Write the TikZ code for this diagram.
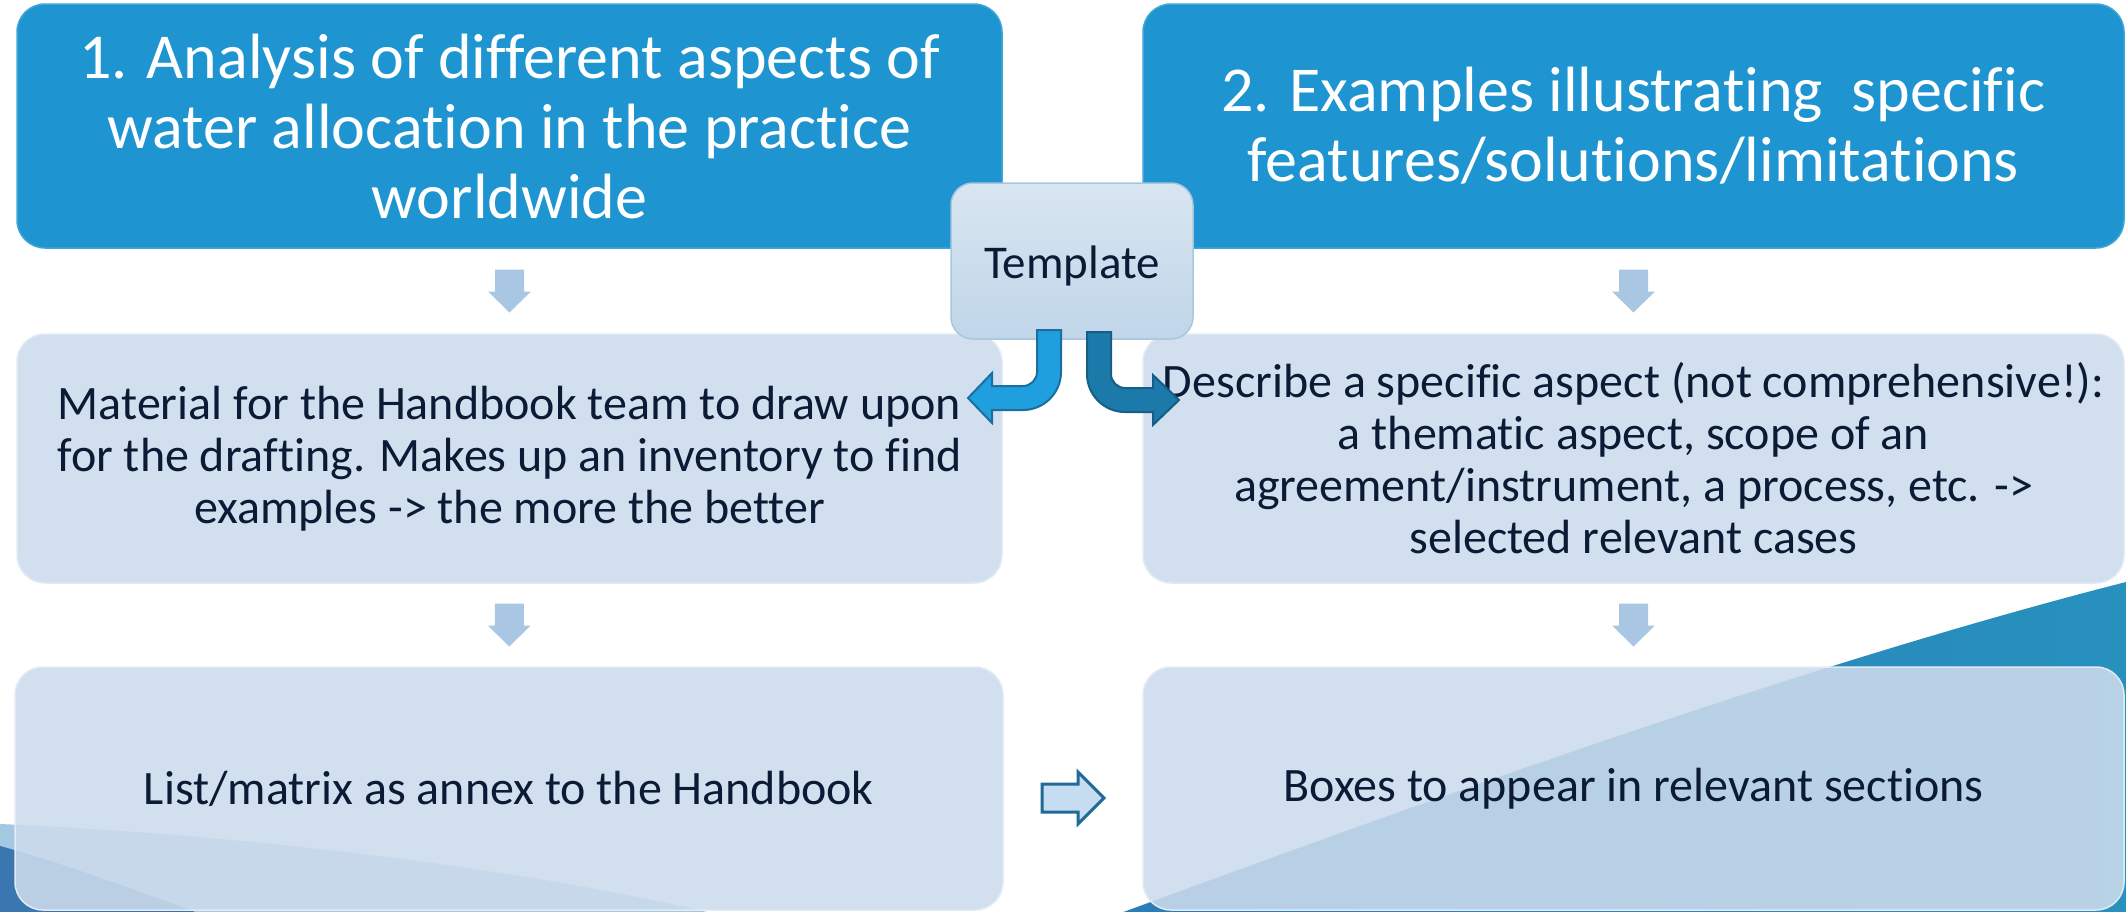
\documentclass[tikz,border=0pt]{standalone}
\usepackage{fontspec}
\setmainfont{Carlito}[Ligatures={NoCommon}]
\usetikzlibrary{calc}
\definecolor{topblue}{HTML}{1E95D0}
\definecolor{boxfill}{HTML}{CCDBEC}
\definecolor{boxedge}{HTML}{E2EBF5}
\definecolor{txtdark}{HTML}{0C1B35}
\definecolor{tmpltop}{HTML}{D8E6F1}
\definecolor{tmplbot}{HTML}{C0D6E9}
\definecolor{tmpledge}{HTML}{A8C6DE}
\definecolor{downfill}{HTML}{A9C7E2}
\definecolor{rarrfill}{HTML}{C5DCF1}
\definecolor{rarredge}{HTML}{1F6A96}
\definecolor{lcurve}{HTML}{1F9FDD}
\definecolor{lcurveedge}{HTML}{1B6E9F}
\definecolor{rcurve}{HTML}{1C7AAA}
\definecolor{rcurveedge}{HTML}{165E86}
\definecolor{teal}{HTML}{2891BE}
\definecolor{tealdark}{HTML}{2A7CB6}
\definecolor{lightwave}{HTML}{A2C9E1}
\definecolor{darkwave}{HTML}{3A77B0}
\tikzset{
  topbox/.style={rectangle, rounded corners=28pt, fill=topblue, draw=topblue!85!white, line width=1.5pt,
    minimum width=985pt, minimum height=244pt, inner sep=0pt, align=center, text=white,
    font=\fontsize{64}{70}\selectfont},
  midbox/.style={rectangle, rounded corners=28pt, fill=boxfill, fill opacity=0.88, text opacity=1,
    draw=boxedge, line width=1.5pt, minimum width=985pt, minimum height=249pt, inner sep=0pt,
    align=center, text=txtdark, font=\fontsize{48}{52}\selectfont},
  tmplbox/.style={rectangle, rounded corners=22pt, top color=tmpltop, bottom color=tmplbot,
    draw=tmpledge, line width=1.5pt, minimum width=242pt, minimum height=156pt, inner sep=0pt,
    text height=40pt, text depth=6pt,
    text=txtdark, font=\fontsize{47}{52}\selectfont},
  downarr/.pic={\fill[downfill] (-14.5,-21.5) -- (14.5,-21.5) -- (14.5,0.5) -- (21.5,0.5) -- (0,21.5) -- (-21.5,0.5) -- (-14.5,0.5) -- cycle;},
  rightarr/.pic={\filldraw[fill=rarrfill, draw=rarredge, line width=3pt, line join=miter] (-31,-14) -- (5,-14) -- (5,-26) -- (31,0) -- (5,26) -- (5,14) -- (-31,14) -- cycle;}
}
\begin{document}
\begin{tikzpicture}[x=1pt,y=-1pt]
\useasboundingbox (0,0) rectangle (2126,911);
\clip (0,0) rectangle (2126,911);
% background waves
\fill[lightwave] (0,824) .. controls (250,835) and (550,870) .. (760,925) -- (0,925) -- cycle;
\fill[darkwave] (0,846) .. controls (60,862) and (150,895) .. (230,925) -- (0,925) -- cycle;
\shade[left color=tealdark, right color=teal] (1080,928) .. controls (1400,810) and (1800,665) .. (2126,582) -- (2130,582) -- (2130,930) -- cycle;
% boxes
\node[topbox] (t1) at (509.5,126) {1. Analysis of different aspects of\\water allocation in the practice\\worldwide};
\node[topbox, minimum width=981pt] (t2) at (1633.5,126) {2. Examples illustrating\ \ specific\\features/solutions/limitations};
\node[midbox] (m1) at (509.5,458.5) {Material for the Handbook team to draw upon\\for the drafting. Makes up an inventory to find\\examples -> the more the better};
\node[midbox, minimum width=981pt] (m2) at (1633.5,458.5) {Describe a specific aspect (not comprehensive!):\\a thematic aspect, scope of an\\agreement/instrument, a process, etc. ->\\selected relevant cases};
\node[midbox, minimum width=988pt, minimum height=243pt] (b1) at (509,788.5) {List/matrix as annex to the Handbook};
\node[midbox, minimum width=981pt, minimum height=243pt] (b2) at (1633.5,788.5) {Boxes to appear in relevant sections};
\node[tmplbox] (tp) at (1072,261) {Template};
% down arrows
\pic at ($(t1.south)!0.5!(m1.north)$) {downarr};
\pic at ($(m1.south)!0.5!(b1.north)$) {downarr};
\pic at ($(t2.south)!0.5!(m2.north)$) {downarr};
\pic at ($(m2.south)!0.5!(b2.north)$) {downarr};
% right block arrow
\pic at ($(b1.east)!0.5!(b2.west)+(0,9.5)$) {rightarr};
% curved arrows from template
\filldraw[fill=lcurve, draw=lcurveedge, line width=2pt, line join=miter]
  (1037,330) -- (1037,372) .. controls (1037,379.7) and (1030.7,386) .. (1023,386)
  -- (992,386) -- (992,373) -- (968,398) -- (992,423) -- (992,410) -- (1023,410)
  .. controls (1044,410) and (1061,393) .. (1061,372) -- (1061,330) -- cycle;
\filldraw[fill=rcurve, draw=rcurveedge, line width=2pt, line join=miter]
  (1111,332) -- (1111,374) .. controls (1111,381.7) and (1117.3,388) .. (1125,388)
  -- (1153,388) -- (1153,375) -- (1179,400) -- (1153,425) -- (1153,412) -- (1125,412)
  .. controls (1104,412) and (1087,395) .. (1087,374) -- (1087,332) -- cycle;
\end{tikzpicture}
\end{document}
